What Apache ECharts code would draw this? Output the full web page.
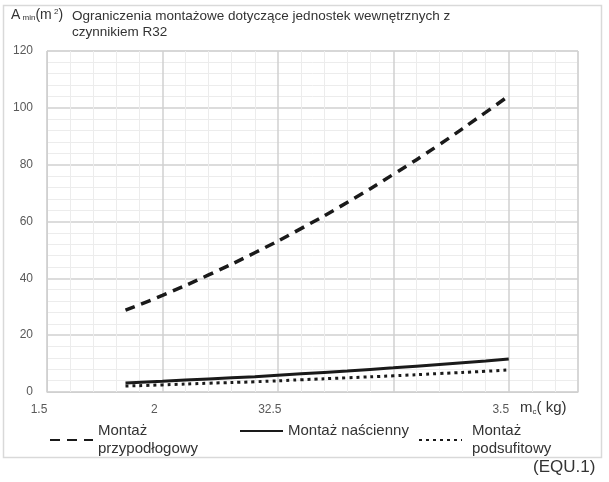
<!DOCTYPE html>
<html>
<head>
<meta charset="utf-8">
<script src="https://cdn.jsdelivr.net/npm/echarts@6/dist/echarts.min.js"></script>
<style>
	html, body { margin: 0; padding: 0; background: #fff; }
	#chart { width: 609px; height: 482px; }
</style>
</head>
<body>
<div id="chart"></div>
<script>
(function() {
	'use strict';

	// masa czynnika m_c (kg)
	var mass = [1.84, 2.0, 2.2, 2.4, 2.6, 2.8, 3.0, 3.2, 3.4, 3.5];
	// A_min (m2)
	var floorArea = [28.8, 34.0, 41.2, 49.0, 57.5, 66.7, 76.6, 87.1, 98.4, 104.2];
	var wallArea = [3.2, 3.8, 4.6, 5.4, 6.4, 7.4, 8.5, 9.7, 10.9, 11.6];
	var ceilingArea = [2.1, 2.5, 3.1, 3.6, 4.3, 5.0, 5.7, 6.5, 7.3, 7.8];

	var seriesNames = ['Montaż przypodłogowy', 'Montaż naścienny', 'Montaż podsufitowy'];
	var legendLabels = ['Montaż\nprzypodłogowy', 'Montaż naścienny', 'Montaż\npodsufitowy'];
	var xTickLabels = { '1.5': '1.5', '2': '2', '2.5': '32.5', '3': '', '3.5': '3.5' };

	function pairs(xs, ys) {
		var out = [];
		for(var i = 0; i < xs.length; i++) {
			out.push([xs[i], ys[i]]);
		}
		return out;
	}

	var fontMain = 'Liberation Sans, Arial, sans-serif';

	function legendFor(idx, left, gap) {
		return {
			data: [seriesNames[idx]],
			left: left,
			top: 417,
			itemWidth: 43,
			itemHeight: 12,
			itemStyle: { opacity: 0 },
			formatter: function() {
				return legendLabels[idx];
			},
			textStyle: {
				fontFamily: fontMain,
				fontSize: 15,
				color: '#333',
				lineHeight: 18,
				padding: [0, 0, 0, gap]
			}
		};
	}

	var chart = echarts.init(document.getElementById('chart'));
	chart.setOption({
		backgroundColor: '#fff',
		animation: false,
		grid: {
			left: 47,
			right: 31,
			top: 51,
			bottom: 90,
			show: true,
			borderColor: '#d9d9d9',
			borderWidth: 1
		},
		xAxis: {
			type: 'value',
			min: 1.5,
			max: 3.8,
			interval: 0.5,
			axisLine: { show: true, lineStyle: { color: '#d0d0d0' } },
			axisTick: { show: false },
			axisLabel: {
				margin: 12,
				color: '#595959',
				fontFamily: fontMain,
				fontSize: 12,
				padding: [0, 16, 0, 0],
				formatter: function(v) {
					var k = String(Math.round(v * 10) / 10);
					return xTickLabels[k] !== undefined ? xTickLabels[k] : '';
				}
			},
			splitLine: { show: true, lineStyle: { color: '#d0d0d0', width: 1.5 } },
			minorTick: { show: false, splitNumber: 5 },
			minorSplitLine: { show: true, lineStyle: { color: '#ececec' } }
		},
		yAxis: {
			type: 'value',
			min: 0,
			max: 120,
			interval: 20,
			axisLine: { show: true, lineStyle: { color: '#d0d0d0' } },
			axisTick: { show: false },
			axisLabel: {
				margin: 14,
				color: '#595959',
				fontFamily: fontMain,
				fontSize: 12
			},
			splitLine: { show: true, lineStyle: { color: '#d0d0d0', width: 1.5 } },
			minorTick: { show: false, splitNumber: 5 },
			minorSplitLine: { show: true, lineStyle: { color: '#ececec' } }
		},
		legend: [legendFor(0, 44, 0), legendFor(1, 234, 0), legendFor(2, 413, 5)],
		series: [{
			name: seriesNames[0],
			type: 'line',
			smooth: true,
			showSymbol: false,
			symbol: 'none',
			data: pairs(mass, floorArea),
			itemStyle: { color: '#1a1a1a' },
			lineStyle: { color: '#1a1a1a', width: 3.5, type: [10, 7] },
			z: 3
		}, {
			name: seriesNames[1],
			type: 'line',
			smooth: true,
			showSymbol: false,
			symbol: 'none',
			data: pairs(mass, wallArea),
			itemStyle: { color: '#1a1a1a' },
			lineStyle: { color: '#1a1a1a', width: 3, type: 'solid' },
			z: 3
		}, {
			name: seriesNames[2],
			type: 'line',
			smooth: true,
			showSymbol: false,
			symbol: 'none',
			data: pairs(mass, ceilingArea),
			itemStyle: { color: '#1a1a1a' },
			lineStyle: { color: '#1a1a1a', width: 3, type: [3, 4] },
			z: 3
		}],
		graphic: [{
			type: 'rect',
			silent: true,
			z: -10,
			shape: { x: 3.5, y: 5.5, width: 598, height: 452 },
			style: { fill: 'none', stroke: '#d9d9d9', lineWidth: 1.5 }
		}, {
			type: 'text',
			left: 11,
			top: 8,
			style: {
				text: '{a|A}{s| min}{a|(m}{p| 2}{a|)}',
				rich: {
					a: { fontFamily: fontMain, fontSize: 14, fill: '#333', verticalAlign: 'bottom' },
					s: { fontFamily: fontMain, fontSize: 8, fill: '#333', padding: [6, 0, 0, 0] },
					p: { fontFamily: fontMain, fontSize: 8, fill: '#333', padding: [0, 0, 6, 0] }
				}
			}
		}, {
			type: 'text',
			left: 72,
			top: 8,
			style: {
				text: 'Ograniczenia montażowe dotyczące jednostek wewnętrznych z\nczynnikiem R32',
				fontFamily: fontMain,
				fontSize: 13.5,
				lineHeight: 16,
				fill: '#333'
			}
		}, {
			type: 'text',
			left: 520,
			top: 400,
			style: {
				text: '{a|m}{s|c}{a|( kg)}',
				rich: {
					a: { fontFamily: fontMain, fontSize: 15, fill: '#333' },
					s: { fontFamily: fontMain, fontSize: 8, fill: '#333', padding: [8, 0, 0, 0] }
				}
			}
		}, {
			type: 'text',
			left: 533,
			top: 459,
			style: {
				text: '(EQU.1)',
				fontFamily: fontMain,
				fontSize: 17,
				fill: '#333'
			}
		}]
	});
})();
</script>
</body>
</html>
